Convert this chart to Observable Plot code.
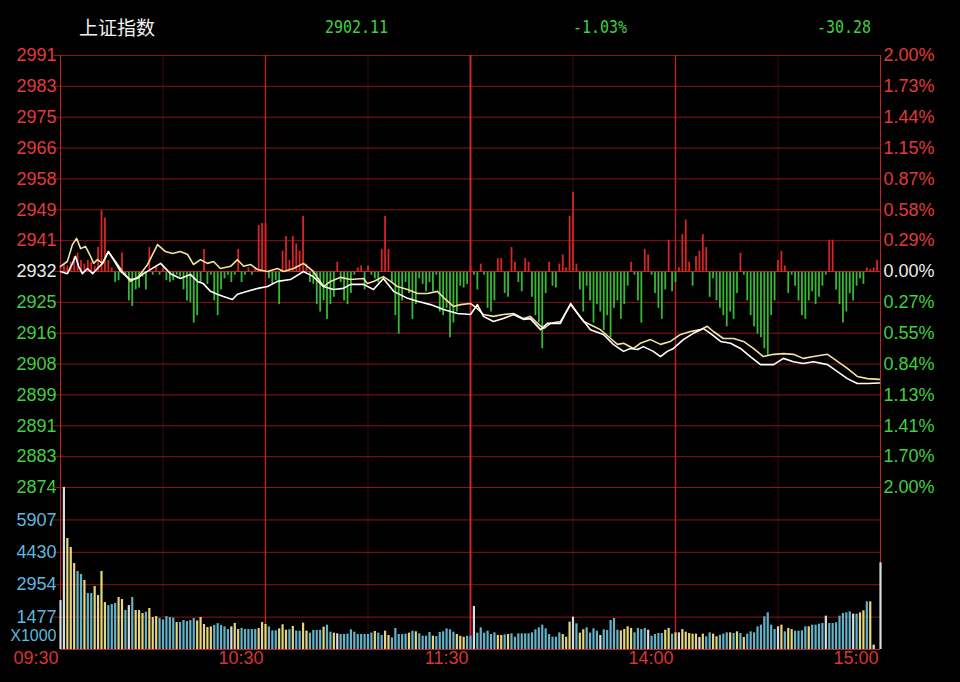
<!DOCTYPE html>
<html><head><meta charset="utf-8">
<script src="https://cdn.jsdelivr.net/npm/d3@7"></script>
<script src="https://cdn.jsdelivr.net/npm/@observablehq/plot@0.6"></script>
<style>
html,body{margin:0;padding:0;background:#000;}
#wrap{position:relative;width:960px;height:682px;overflow:hidden;background:#000;}
#p1,#p2{position:absolute;left:0;}
#p1{top:0;} #p2{top:487px;}
.hd{position:absolute;top:15px;line-height:24px;white-space:nowrap;}
#name{left:79px;color:#f2f2f2;font-family:"Noto Sans CJK SC",sans-serif;font-size:19px;}
.num{color:#3fd03f;font-family:"DejaVu Sans Mono",monospace;font-size:17px;transform:scaleX(0.88);transform-origin:left center;}
</style></head>
<body><div id="wrap">
<div id="p1"></div><div id="p2"></div>
<div id="name" class="hd"></div>
<div id="last" class="hd num" style="left:325px"></div>
<div id="pct" class="hd num" style="left:573px"></div>
<div id="chg" class="hd num" style="left:817px"></div>
</div>
<script>
const titleName = "上证指数";
const lastPrice = "2902.11";
const changePct = "-1.03%";
const changePts = "-30.28";

const priceLabels = ["2991","2983","2975","2966","2958","2949","2941","2932","2925","2916","2908","2899","2891","2883","2874"];
const pctLabels = ["2.00%","1.73%","1.44%","1.15%","0.87%","0.58%","0.29%","0.00%","0.27%","0.55%","0.84%","1.13%","1.41%","1.70%","2.00%"];
const volLabels = ["5907","4430","2954","1477"];
const volUnit = "X1000";
const timeLabels = ["09:30","10:30","11:30","14:00","15:00"];
const timeMinutes = [0,60,120,180,240];
const halfHourMinutes = [30,90,150,210];

// white line: index price [minute, price]
const whiteLine = [[0,2932.4],[2,2931.8],[3.5,2934.6],[4.4,2936.5],[5.3,2933.8],[6.4,2931.8],[7.9,2933.2],[9.4,2931.8],[10.8,2933.2],[12.3,2934.6],[14,2937.8],[15.5,2935.6],[17.6,2932.4],[20.5,2930.2],[22.5,2930.5],[24.3,2931.8],[26.3,2932.9],[29.3,2934.6],[32.2,2931.8],[35.1,2930.5],[38,2931.6],[40.1,2929.7],[41.8,2929.1],[43.9,2927.0],[45.9,2926.2],[47.7,2925.6],[50.3,2924.8],[51.8,2926.2],[54.7,2927.0],[57.7,2927.8],[60.6,2928.3],[63.5,2929.7],[67.3,2930.2],[71.1,2932.4],[74,2931.0],[77,2928.3],[79.9,2927.5],[82.8,2927.8],[84.9,2928.9],[88.7,2928.9],[91.6,2927.5],[94.5,2930.5],[97.5,2927.0],[101.6,2925.1],[104.5,2924.3],[108.3,2923.4],[112.1,2922.1],[116.2,2921.0],[120,2920.7],[122,2923.4],[123.8,2920.2],[126.7,2918.8],[129.6,2919.6],[132.6,2920.7],[135.5,2919.4],[137.5,2919.6],[140.5,2916.6],[142.5,2918.3],[146.3,2918.3],[149.3,2923.7],[151.6,2920.7],[155.1,2916.6],[158.9,2915.3],[161.8,2912.6],[164.8,2910.7],[166.8,2911.5],[168.9,2911.2],[170.6,2912.0],[173.5,2910.7],[175.6,2909.3],[177.6,2910.7],[179.4,2911.5],[182.3,2913.9],[185.2,2915.6],[188.2,2916.9],[190.2,2915.6],[193.2,2913.4],[196.1,2912.9],[199,2911.5],[201.9,2909.3],[204.9,2907.1],[208.7,2907.1],[211.6,2908.8],[214.5,2907.9],[217.4,2907.4],[220.4,2907.9],[224.5,2907.1],[227.4,2905.2],[230.3,2903.3],[233.2,2902.0],[236.2,2902.0],[239.7,2902.1]];

// yellow line: average / unweighted index [minute, price]
const yellowLine = [[0,2933.8],[2,2935.1],[3.5,2939.7],[4.7,2941.4],[5.9,2938.6],[7.3,2939.2],[8.8,2936.5],[9.7,2934.6],[10.8,2935.6],[12.3,2934.6],[14,2937.8],[16.7,2934.3],[18.1,2932.4],[20.5,2929.7],[22.8,2931.0],[25.5,2934.3],[28.4,2939.7],[30.7,2937.8],[32.8,2937.3],[35.1,2937.8],[37.2,2937.0],[38.9,2934.3],[41,2935.6],[43,2934.6],[44.8,2935.1],[46.8,2933.2],[49.8,2933.8],[51.8,2935.6],[53.6,2933.8],[55.6,2934.3],[57.7,2932.9],[60.6,2932.4],[63.5,2933.2],[65.3,2932.4],[68.2,2933.2],[71.1,2934.6],[74,2932.4],[77,2928.3],[79,2929.7],[82,2930.8],[84.9,2930.2],[88.7,2930.5],[89.8,2929.1],[91.6,2929.7],[94.5,2931.0],[96.6,2929.7],[98.6,2928.3],[101.6,2927.5],[104.5,2926.4],[107.4,2926.4],[110.3,2927.0],[112.7,2924.8],[115,2922.9],[117.1,2923.4],[120,2923.7],[122,2922.3],[123.8,2920.7],[126.7,2920.2],[129.6,2920.7],[132.6,2921.0],[135.5,2919.6],[137.5,2920.2],[139.6,2918.3],[141.4,2916.9],[143.4,2918.3],[146.3,2918.8],[149.3,2923.4],[151.3,2921.0],[153.1,2918.8],[156,2917.5],[158,2916.6],[161,2914.2],[163,2912.6],[164.8,2912.9],[167.7,2911.5],[169.7,2912.9],[172.7,2913.9],[175.6,2912.6],[178.5,2913.4],[181.5,2915.3],[184.4,2916.1],[187.3,2916.6],[189.3,2917.5],[191.1,2916.1],[194,2914.2],[197,2914.2],[199.9,2913.4],[202.8,2911.5],[205.7,2909.3],[208.7,2909.9],[211.6,2910.1],[214.5,2909.9],[217.4,2908.8],[220.4,2909.3],[224.5,2909.9],[227.4,2908.0],[230.3,2906.1],[233.2,2903.9],[236.2,2903.3],[239.7,2903.1]];

// red/green bars per minute (index points above/below previous close)
const flow = [
1.5,2,1.5,2.5,4,5,3,2,3,2.5,
1.5,6.5,16.5,14.5,3,1,-3,-2.5,5,-1,
-8,-9.5,-5,-4.5,-1.5,-5,6.5,-1,1.5,-1,
1,-2.5,-3,-2.5,-1,-1.5,-5,-8,-8.5,-14,
-12,-3,6,-3.5,-1,-8,-12,-5,-2,-1,
-3,-1,6,-3,-1,1,-1,1,12.5,13,
13,-2,-3.5,-2.5,-9,5.5,9.5,3,9.5,7.5,
5.5,15,2,-3,-3.5,-9,-11,-8,-13,-9,
-7,2.5,-3,-8,-9,-6,-1,1,1.5,-5,
1.5,-1,-2,-3,6,15,6,-3,-12,-17,
-8,-3,-6,-13,-9,-2,-3.5,-5.5,-3,-5.5,
-1,-11,-12,-10,-18,-14,-11,-4,-4.5,-3.5,
1.5,-1,-5,2,-1,-10,-11,-8,3.5,3.5,
-6,-7,6.5,2.5,-3,-5.5,3.5,2.5,-7,-12,
-14,-21,-6,2.5,-4,-4.5,2,4.5,1,15,
21.5,2,-5,-11,-4,-8,-14,-9,-11,-16,
-12,-18,-10,-8,-13,-9,-4,2.5,-1,-8,
-14,6,4.5,-1,-6,-10,-13,-5,8.5,-5.5,
-3,1,10,14,2.5,-4,4,5.5,10,6.5,
-7,-2,-8,-10,-12,-15,-11,-13,-6,5,
-1,-8,-12,-15,-17,-18,-21,-23,-12,-8,
3,5.5,1.5,-6,-1,-4,-8,-12,-13,-8,
-5.5,-9,-7,-4,-1,8.5,8.5,-5,-9,-14,
-11,-6,-8,-4,-2,-3.5,1,0.5,1,3];

// volume per minute (x1000)
const volume = [
2230,7390,5060,4650,3920,3560,3420,3150,2550,2550,
2870,2460,3560,2140,2000,2050,2100,2370,2280,1780,
2000,2370,1780,1780,1640,1700,1870,1460,1500,1410,
1350,1500,1460,1430,1230,1230,1320,1270,1320,1410,
1300,1460,1140,1000,1030,1100,1180,1100,1030,910,
1030,1190,910,960,910,910,910,910,960,1230,
1140,1030,850,850,940,1125,880,900,1050,840,
830,1200,840,745,870,870,870,1018,1110,790,
745,714,684,684,700,897,790,684,684,684,
684,750,820,745,640,836,640,532,958,684,
684,700,745,836,806,714,608,608,775,608,
593,775,806,942,900,790,684,600,560,600,
608,1960,745,988,745,836,684,760,640,640,
670,684,714,560,714,714,714,714,760,897,
988,1110,942,684,560,560,760,684,560,1246,
1474,1170,745,900,988,745,942,836,640,897,
866,1322,1414,880,850,910,1034,960,760,960,
910,960,880,608,684,730,730,880,960,700,
760,760,910,790,730,700,700,547,700,580,
760,700,580,650,700,760,760,730,806,730,
547,700,806,760,1034,1110,1490,1672,1110,910,
1034,1110,806,960,910,836,836,850,1034,1034,
1110,1110,1155,1186,1520,1186,1186,1216,1520,1642,
1672,1718,1611,1611,1672,1763,2174,2174,198,0,3952];

// minute direction: y = up, c = down, w = flat
const volumeDir = ("wwyyyccycc"+"yyyycccyyc"+"wcyyycyyyc"+"ccccyccccc"+"yyyyyccccc"+
  "wyycccccyy"+"ycccyyycyc"+"cyyccccycc"+"ywcccccccc"+"ccyccyyccc"+
  "ccycyccccy"+"ccccccyyyc"+"cwccccccyy"+"cycccccccc"+"cccccccyyy"+
  "wcyyccccwc"+"ccccyyyycc"+"ccwccccyyc"+"ywyyyyywyc"+"cyycccycyc"+
  "yccccccccc"+"wycyyccccy"+"ccccwccccc"+"ccwcyycywww").split("");

// ---------- drawing ----------
document.getElementById("name").textContent = titleName;
document.getElementById("last").textContent = lastPrice;
document.getElementById("pct").textContent = changePct;
document.getElementById("chg").textContent = changePts;

const RED = "#e03a3a", GREEN = "#3fd03f", WHITE = "#ececec", CYAN = "#5cb8de";
const GRID = "#8a1616", DIM = "#3c0c0c", HOUR = "#c02020";
const dirColor = {y: "#e4d67c", c: "#63b2c8", w: "#d8dde0"};

const prevClose = +lastPrice - +changePts;
const step = prevClose * 0.02 / 7;
const ticks = priceLabels.map((s, i) => ({
  y: prevClose + (7 - i) * step, price: s, pct: pctLabels[i],
  color: i < 7 ? RED : i === 7 ? WHITE : GREEN
}));
const hourLines = timeMinutes.filter(m => m > 0 && m < 240 && m !== 120);
const font = {background: "transparent", fontFamily: "'Liberation Sans', Arial, sans-serif", fontSize: "18px", overflow: "visible"};

const p1 = Plot.plot({
  width: 960, height: 507,
  marginTop: 55, marginBottom: 20, marginLeft: 60, marginRight: 80,
  style: font,
  x: {domain: [0, 240], axis: null},
  y: {domain: [prevClose - 7 * step, prevClose + 7 * step], axis: null},
  color: {type: "identity"},
  marks: [
    Plot.ruleX(halfHourMinutes, {stroke: DIM}),
    Plot.ruleY(ticks, {y: "y", x1: -2, x2: 240, stroke: GRID}),
    Plot.ruleX(hourLines, {stroke: HOUR, strokeWidth: 1.4}),
    Plot.ruleX([120], {stroke: "#e02828", strokeWidth: 1.8}),
    Plot.ruleX([0, 240], {stroke: "#c42222"}),
    Plot.ruleX(flow, {x: (d, i) => i, y1: prevClose, y2: d => prevClose + d,
      stroke: d => d >= 0 ? "#d82424" : "#35b835", strokeWidth: 1.8}),
    Plot.ruleY([prevClose], {stroke: "#c82222"}),
    Plot.line(yellowLine, {x: d => d[0], y: d => d[1], stroke: "#f2e39a", strokeWidth: 1.6}),
    Plot.line(whiteLine, {x: d => d[0], y: d => d[1], stroke: "#ffffff", strokeWidth: 1.6}),
    Plot.text(ticks, {y: "y", text: "price", frameAnchor: "left", textAnchor: "end", dx: -4, fill: "color"}),
    Plot.text(ticks, {y: "y", text: "pct", frameAnchor: "right", textAnchor: "start", dx: 3, fill: "color"})
  ]
});
document.getElementById("p1").appendChild(p1);

const volStep = +volLabels[volLabels.length - 1];
const volGrid = volLabels.map(Number).concat([volStep * 5]);
const p2 = Plot.plot({
  width: 960, height: 195,
  marginTop: 0, marginBottom: 33, marginLeft: 60, marginRight: 80,
  style: font,
  x: {domain: [0, 240], axis: null},
  y: {domain: [0, volStep * 5], axis: null},
  color: {type: "identity"},
  marks: [
    Plot.ruleX(halfHourMinutes, {stroke: DIM}),
    Plot.ruleY(volGrid, {x1: -2, x2: 240, stroke: GRID}),
    Plot.ruleX(hourLines, {stroke: HOUR, strokeWidth: 1.4}),
    Plot.ruleX([120], {stroke: "#e02828", strokeWidth: 1.8}),
    Plot.ruleX([0, 240], {stroke: "#c42222"}),
    Plot.ruleX(volume, {x: (d, i) => i, y1: 0, y2: d => d,
      stroke: (d, i) => dirColor[volumeDir[i]], strokeWidth: 2.2}),
    Plot.ruleY([0], {stroke: "#c42222"}),
    Plot.text(volLabels, {y: d => +d, text: d => d, frameAnchor: "left", textAnchor: "end", dx: -4, fill: CYAN}),
    Plot.text([volUnit], {frameAnchor: "bottom-left", textAnchor: "end", dx: -4, dy: -9, fontSize: 16, fill: CYAN}),
    Plot.text(timeLabels, {x: (d, i) => timeMinutes[i], text: d => d, frameAnchor: "bottom",
      textAnchor: "end", dx: -2, dy: 14, fill: "#d83434"})
  ]
});
document.getElementById("p2").appendChild(p2);
</script>
</body></html>
